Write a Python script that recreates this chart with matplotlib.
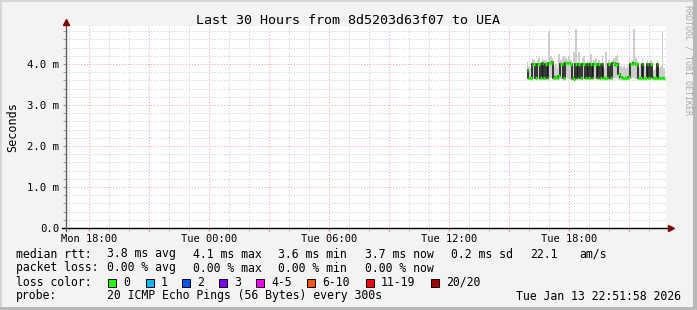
import numpy as np
import matplotlib.pyplot as plt
from matplotlib.ticker import FixedLocator, FuncFormatter
from matplotlib.patches import Rectangle

plt.rcParams['font.family'] = ['DejaVu Sans Mono']

# hours since Mon 00:00, 5 minute steps
t_start = 39.9
step = 5 / 60.0

median_ms = [3.85, 3.65, 3.66, 4.00, 4.00, 3.65, 4.01, 4.00, 3.66, 4.02,
             3.66, 4.00, 3.65, 4.03, 4.02, 4.04, 3.66, 3.68, 3.66, 3.70,
             4.00, 4.00, 3.65, 4.02, 4.03, 4.02, 4.00, 3.65, 3.64, 4.00,
             3.66, 4.00, 3.65, 4.00, 4.01, 3.67, 4.00, 3.66, 4.00, 3.66,
             4.00, 4.00, 3.65, 4.01, 3.66, 4.00, 3.66, 3.65, 3.65, 4.00,
             3.66, 4.02, 4.03, 3.98, 4.00, 3.75, 3.68, 3.66, 3.65, 3.65,
             3.66, 3.68, 4.00, 4.00, 4.02, 4.00, 4.00, 3.66, 3.66, 4.00,
             3.66, 3.66, 4.00, 3.67, 4.00, 3.68, 3.65, 3.66, 4.00, 3.65,
             3.66, 3.66, 3.66]
smoke_hi = [4.05, 3.95, 3.9, 4.15, 4.1, 3.9, 4.1, 4.15, 3.95, 4.15,
            4.1, 4.1, 4.0, 4.8, 4.2, 4.15, 3.95, 4.0, 3.9, 4.25,
            4.1, 4.15, 4.2, 4.15, 4.1, 4.2, 4.1, 3.9, 4.3, 4.85,
            4.0, 4.3, 3.9, 4.15, 4.2, 4.0, 4.1, 4.05, 4.25, 3.95,
            4.1, 4.15, 4.0, 4.1, 4.0, 4.2, 3.9, 4.3, 3.9, 4.1,
            4.0, 4.1, 4.15, 4.2, 4.25, 4.05, 3.95, 3.9, 3.95, 3.9,
            3.95, 4.0, 4.05, 4.1, 4.85, 4.15, 4.1, 3.9, 4.0, 4.15,
            4.0, 3.95, 4.1, 3.95, 4.1, 3.9, 3.85, 3.9, 4.1, 3.9,
            3.95, 4.8, 3.9]
smoke_lo = [3.75, 3.6, 3.6, 3.62, 3.64, 3.6, 3.63, 3.62, 3.6, 3.64,
            3.6, 3.62, 3.6, 3.63, 3.65, 3.66, 3.6, 3.6, 3.6, 3.62,
            3.63, 3.64, 3.6, 3.65, 3.66, 3.64, 3.62, 3.6, 3.58, 3.62,
            3.6, 3.63, 3.6, 3.62, 3.64, 3.6, 3.63, 3.6, 3.62, 3.6,
            3.63, 3.64, 3.6, 3.62, 3.6, 3.63, 3.6, 3.6, 3.6, 3.62,
            3.6, 3.64, 3.66, 3.65, 3.64, 3.62, 3.6, 3.6, 3.6, 3.6,
            3.6, 3.62, 3.64, 3.65, 3.66, 3.64, 3.63, 3.6, 3.6, 3.62,
            3.6, 3.6, 3.63, 3.6, 3.62, 3.6, 3.6, 3.6, 3.62, 3.6,
            3.6, 3.6, 3.6]

tick_hours = [18, 24, 30, 36, 42]
tick_labels = ['Mon 18:00', 'Tue 00:00', 'Tue 06:00', 'Tue 12:00', 'Tue 18:00']

loss_labels = ['0', '1', '2', '3', '4-5', '6-10', '11-19', '20/20']
loss_colors = ['#26ff00', '#00b8ff', '#0059ff', '#7e00ff', '#ff00ff',
               '#ff5500', '#ff0000', '#a10000']

W, H = 697, 310
fig = plt.figure(figsize=(W / 100, H / 100), dpi=100, facecolor='#f3f3f3')

def px(x, y):
    return x / W, 1 - y / H

x0, x1, y0, y1 = 66, 666, 26, 228
ax = fig.add_axes([x0 / W, 1 - y1 / H, (x1 - x0) / W, (y1 - y0) / H])
ax.set_facecolor('white')
ax.set_xlim(16.866, 46.866)
ax.set_ylim(0, 4.927)

n = len(median_ms)
edges = t_start + step * np.arange(n + 1)
lo = smoke_lo + [smoke_lo[-1]]
hi = smoke_hi + [smoke_hi[-1]]
ax.fill_between(edges, lo, hi, step='post', color='#cdcdcd', lw=0, zorder=2)
ax.stairs(median_ms, edges, color='#1a1a1a', lw=1.2, baseline=None, zorder=3)
ax.hlines(median_ms, edges[:-1], edges[1:], color='#26ff00', lw=2.4, zorder=4)

# grid
ax.xaxis.set_major_locator(FixedLocator(np.arange(18, 47, 3)))
ax.xaxis.set_minor_locator(FixedLocator(np.arange(17, 47, 1)))
ax.xaxis.set_major_formatter(FuncFormatter(
    lambda v, p: tick_labels[tick_hours.index(int(round(v)))] if int(round(v)) in tick_hours else ''))
ax.yaxis.set_major_locator(FixedLocator([0, 1, 2, 3, 4]))
ax.yaxis.set_minor_locator(FixedLocator(np.arange(0.2, 4.95, 0.2)))
ax.yaxis.set_major_formatter(FuncFormatter(lambda v, p: '0.0' if v == 0 else f'{v:.1f} m'))
ax.grid(which='major', color='#ff9a9a', linestyle=(0, (1, 2)), lw=0.7, zorder=1)
ax.grid(which='minor', color='#c8c8c8', linestyle=(0, (1, 2)), lw=0.7, zorder=1)
ax.tick_params(axis='x', which='both', length=2, color='#ff8080', labelsize=7.5, pad=2)
ax.tick_params(axis='y', which='both', length=2, color='#909090', labelsize=7.7, pad=3)
ax.set_axisbelow(True)

for s in ['top', 'right', 'bottom', 'left']:
    ax.spines[s].set_visible(False)
ax.plot([-0.006, 1.006], [0, 0], transform=ax.transAxes, color='black', lw=1.0, clip_on=False, zorder=5)
ax.plot([0, 0], [-0.015, 1.015], transform=ax.transAxes, color='#606060', lw=1.0, clip_on=False, zorder=5)
ax.plot([1.008], [0], marker='>', ms=4, color='#7f0000', transform=ax.transAxes, clip_on=False, zorder=6)
ax.plot([0], [1.02], marker='^', ms=4, color='#7f0000', transform=ax.transAxes, clip_on=False, zorder=6)

ax.set_ylabel('Seconds', fontsize=8.5, labelpad=6)

fig.text(*px(348, 20), 'Last 30 Hours from 8d5203d63f07 to UEA', ha='center', va='center', fontsize=9.6)
fig.text(*px(688, 60), 'RRDTOOL / TOBI OETIKER', ha='center', va='center', rotation=270,
         fontsize=6, color='#a8a8a8')

fs = 8.3
row1 = [(16, 'median rtt:'), (107, '3.8 ms avg'), (193, '4.1 ms max'), (278, '3.6 ms min'),
        (365, '3.7 ms now'), (451, '0.2 ms sd'), (530, '22.1'), (579, 'am/s')]
row2 = [(16, 'packet loss:'), (107, '0.00 % avg'), (193, '0.00 % max'),
        (278, '0.00 % min'), (365, '0.00 % now')]
for x, s in row1:
    fig.text(*px(x, 254), s, ha='left', va='center', fontsize=fs)
for x, s in row2:
    fig.text(*px(x, 268), s, ha='left', va='center', fontsize=fs)

fig.text(*px(16, 282), 'loss color:', ha='left', va='center', fontsize=fs)
box_x = [108, 146, 182, 219, 256, 307, 366, 431]
for bx, lab, col in zip(box_x, loss_labels, loss_colors):
    fig.patches.append(Rectangle(px(bx, 287), 8 / W, 8 / H, transform=fig.transFigure,
                                 facecolor=col, edgecolor='black', lw=0.7))
    fig.text(*px(bx + 15, 282), lab, ha='left', va='center', fontsize=fs)

fig.text(*px(16, 296), 'probe:', ha='left', va='center', fontsize=fs)
fig.text(*px(107, 296), '20 ICMP Echo Pings (56 Bytes) every 300s', ha='left', va='center', fontsize=fs)
fig.text(*px(681, 296), 'Tue Jan 13 22:51:58 2026', ha='right', va='center', fontsize=fs)

# frame shading
fig.patches.append(Rectangle((0, 1 - 2 / H), 1, 2 / H, transform=fig.transFigure, facecolor='#d6d6d6', lw=0))
fig.patches.append(Rectangle((0, 0), 2 / W, 1, transform=fig.transFigure, facecolor='#d6d6d6', lw=0))
fig.patches.append(Rectangle((1 - 4 / W, 0), 4 / W, 1, transform=fig.transFigure, facecolor='#b8b8b8', lw=0))
fig.patches.append(Rectangle((0, 0), 1, 3 / H, transform=fig.transFigure, facecolor='#b8b8b8', lw=0))

fig.savefig('out.png', dpi=100, facecolor=fig.get_facecolor())
